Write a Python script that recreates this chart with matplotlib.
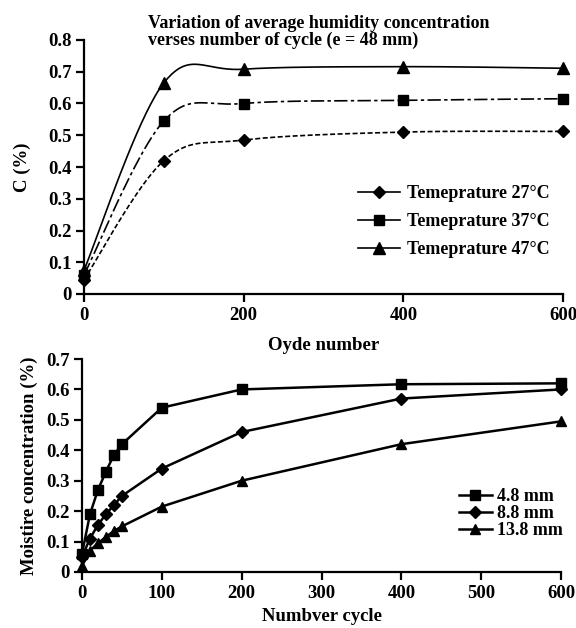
import numpy as np
import matplotlib
matplotlib.use("Agg")
import matplotlib.pyplot as plt
from matplotlib.lines import Line2D

plt.rcParams['font.family'] = ['Liberation Serif', 'DejaVu Serif']
plt.rcParams['font.weight'] = 'bold'

# top chart: average humidity concentration vs cycle (e = 48 mm)
cycles_top = [0, 100, 200, 400, 600]
c_27 = [0.045, 0.42, 0.485, 0.51, 0.512]
c_37 = [0.06, 0.545, 0.60, 0.61, 0.615]
c_47 = [0.075, 0.665, 0.708, 0.716, 0.711]
top_labels = ["Temeprature 27°C", "Temeprature 37°C", "Temeprature 47°C"]

# bottom chart: moisture concentration vs cycle for three thicknesses
cycles_bot = [0, 10, 20, 30, 40, 50, 100, 200, 400, 600]
m_48 = [0.06, 0.19, 0.27, 0.33, 0.385, 0.42, 0.54, 0.60, 0.617, 0.62]
m_88 = [0.05, 0.11, 0.155, 0.19, 0.22, 0.25, 0.34, 0.46, 0.57, 0.60]
m_138 = [0.02, 0.07, 0.095, 0.115, 0.135, 0.15, 0.215, 0.30, 0.42, 0.495]
bot_labels = ["4.8 mm", "8.8 mm", "13.8 mm"]


def smooth(x, y, n=40):
    # excel-like smoothed line (bezier through the points)
    x = np.asarray(x, float)
    y = np.asarray(y, float)
    px, py = [], []
    for i in range(len(x) - 1):
        x0, y0 = (x[i - 1], y[i - 1]) if i > 0 else (x[i], y[i])
        x3, y3 = (x[i + 2], y[i + 2]) if i + 2 < len(x) else (x[i + 1], y[i + 1])
        c1x = x[i] + (x[i + 1] - x0) / 6
        c1y = y[i] + (y[i + 1] - y0) / 6
        c2x = x[i + 1] - (x3 - x[i]) / 6
        c2y = y[i + 1] - (y3 - y[i]) / 6
        t = np.linspace(0, 1, n)
        a, b, c, d = (1 - t) ** 3, 3 * t * (1 - t) ** 2, 3 * t ** 2 * (1 - t), t ** 3
        px.extend(a * x[i] + b * c1x + c * c2x + d * x[i + 1])
        py.extend(a * y[i] + b * c1y + c * c2y + d * y[i + 1])
    return px, py


def style_axes(ax):
    for s in ["top", "right"]:
        ax.spines[s].set_visible(False)
    for s in ["left", "bottom"]:
        ax.spines[s].set_linewidth(1.6)
    ax.tick_params(direction="out", length=6, width=1.6, labelsize=13.5, pad=3)
    for lbl in ax.get_xticklabels() + ax.get_yticklabels():
        lbl.set_fontweight("bold")


fig = plt.figure(figsize=(5.76, 6.28), dpi=100)

# ---- top
ax1 = fig.add_axes([84 / 576, 1 - 294 / 628, 479 / 576, 254 / 628])
styles = [(0, (3, 1.5)), (0, (8, 2, 2, 2)), "-"]
markers = ["D", "s", "^"]
msizes = [6, 7, 8]
for yv, ls, mk, ms in zip([c_27, c_37, c_47], styles, markers, msizes):
    sx, sy = smooth(cycles_top, yv)
    ax1.plot(sx, sy, color="black", lw=1.2, ls=ls)
    ax1.plot(cycles_top, yv, ls="none", marker=mk, ms=ms, color="black", clip_on=False)
ax1.set_xlim(0, 600)
ax1.set_ylim(0, 0.8)
ax1.set_xticks([0, 200, 400, 600])
ax1.set_yticks(np.arange(0, 0.81, 0.1))
ax1.set_yticklabels(["0"] + [f"{v:.1f}" for v in np.arange(0.1, 0.81, 0.1)])
style_axes(ax1)
ax1.set_xlabel("Oyde number", fontsize=13.5, fontweight="bold", labelpad=10)
ax1.set_ylabel("C (%)", fontsize=13.5, fontweight="bold", labelpad=12)
handles = [Line2D([], [], color="black", lw=1.2, marker=m, ms=s) for m, s in zip(markers, msizes)]
ax1.legend(handles, top_labels, loc="upper left", bbox_to_anchor=(358 / 576, 1 - 185 / 628),
           bbox_transform=fig.transFigure, frameon=False, handlelength=2.3,
           handletextpad=0.4, labelspacing=0.62, borderpad=0, borderaxespad=0,
           prop={"weight": "bold", "size": 13})
fig.text(148 / 576, 1 - 32 / 628, "Variation of average humidity concentration\nverses number of cycle (e = 48 mm)",
         ha="left", va="center", fontsize=13, fontweight="bold", linespacing=1.05)

# ---- bottom
ax2 = fig.add_axes([82 / 576, 1 - 572 / 628, 479 / 576, 213 / 628])
bmarkers = ["s", "D", "^"]
bsizes = [7.5, 6, 7.5]
for yv, mk, ms in zip([m_48, m_88, m_138], bmarkers, bsizes):
    ax2.plot(cycles_bot, yv, color="black", lw=1.8, marker=mk, ms=ms, clip_on=False)
ax2.set_xlim(0, 600)
ax2.set_ylim(0, 0.7)
ax2.set_xticks(np.arange(0, 601, 100))
ax2.set_yticks(np.arange(0, 0.71, 0.1))
ax2.set_yticklabels(["0"] + [f"{v:.1f}" for v in np.arange(0.1, 0.71, 0.1)])
style_axes(ax2)
ax2.set_xlabel("Numbver cycle", fontsize=13.5, fontweight="bold", labelpad=5)
ax2.set_ylabel("Moistire concentration (%)", fontsize=13.5, fontweight="bold", labelpad=6)
bh = [Line2D([], [], color="black", lw=1.8, marker=m, ms=s) for m, s in zip(bmarkers, bsizes)]
ax2.legend(bh, bot_labels, loc="upper left", bbox_to_anchor=(459 / 576, 1 - 488 / 628),
           bbox_transform=fig.transFigure, frameon=False, handlelength=1.8,
           handletextpad=0.3, labelspacing=0.0, borderpad=0, borderaxespad=0,
           prop={"weight": "bold", "size": 13})

fig.savefig("out.png", dpi=100)
